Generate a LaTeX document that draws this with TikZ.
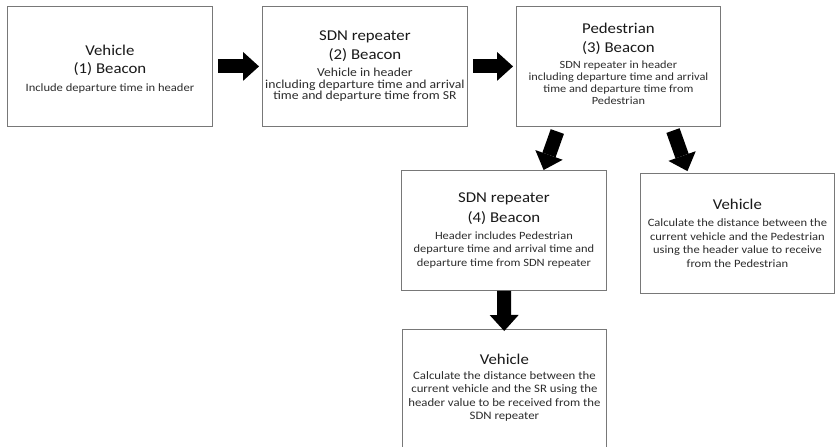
\documentclass[tikz,border=0pt]{standalone}
\usepackage{fontspec}
\setmainfont{Carlito}
\newfontfamily\bodyfam[FakeStretch=1.12]{Carlito}
\usetikzlibrary{arrows.meta,calc}
\definecolor{boxgray}{RGB}{120,120,120}
\definecolor{titlecol}{RGB}{25,25,25}
\definecolor{bodycol}{RGB}{45,45,45}
\newcommand\T[1]{{\fontsize{15}{15}\selectfont\color{titlecol}#1}}
\newcommand\bodyset[2]{\bodyfam\fontsize{#1}{#2}\selectfont\lineskiplimit=-50pt\relax}
\begin{document}
\begin{tikzpicture}[x=1pt,y=-1pt,
  box/.style={draw=boxgray, line width=0.8pt, fill=white, inner sep=0pt,
    minimum width=205pt, minimum height=120pt, anchor=north west},
  txt/.style={align=center, inner sep=0pt, text=bodycol},
  bigarrow/.style={draw=black, line width=14pt,
    -{Triangle[length=16pt, width=29pt, line width=0pt]}},
]
\useasboundingbox (0,0) rectangle (836,447);

\node[box] (b1) at (7,6) {};
\node[box] (b2) at (262,6) {};
\node[box, minimum width=204pt] (b3) at (516,6) {};
\node[box] (b4) at (401,170) {};
\node[box, minimum width=194pt] (b5) at (640,173) {};
\node[box, minimum width=204pt] (b6) at (402,329) {};

\node[txt, font=\bodyset{11.2}{18}] (t1) at ($(b1)+(0,3)$)
  {\T{Vehicle}\\ \T{(1) Beacon}\\ Include departure time in header};
\node[txt, font=\bodyset{12.2}{11.8}] (t2) at (b2)
  {\T{SDN repeater}\\[7pt] \T{(2) Beacon}\\[5pt] Vehicle in header\\ including departure time and arrival\\ time and departure time from SR};
\node[txt, font=\bodyset{11}{12}] (t3) at ($(b3)+(0,-2.5)$)
  {\T{Pedestrian}\\[7pt] \T{(3) Beacon}\\[4pt] SDN repeater in header\\ including departure time and arrival\\ time and departure time from\\ Pedestrian};
\node[txt, font=\bodyset{11.1}{13.5}] (t4) at (b4)
  {\T{SDN repeater}\\[6.5pt] \T{(4) Beacon}\\[3.5pt] Header includes Pedestrian\\ departure time and arrival time and\\ departure time from SDN repeater};
\node[txt, font=\bodyset{11.2}{13.7}] (t5) at (b5)
  {\T{Vehicle}\\[3.3pt] Calculate the distance between the\\ current vehicle and the Pedestrian\\ using the header value to receive\\ from the Pedestrian};
\node[txt, font=\bodyset{11.4}{13.5}] (t6) at ($(b6)+(0,-1.5)$)
  {\T{Vehicle}\\[1.5pt] Calculate the distance between the\\ current vehicle and the SR using the\\ header value to be received from the\\ SDN repeater};

\coordinate (a3s) at ($(b3.south west)!0.21!(b3.south east)$);
\coordinate (a3e) at ($(b4.north west)!0.693!(b4.north east)$);
\coordinate (a4s) at ($(b3.south west)!0.76!(b3.south east)$);
\coordinate (a4e) at ($(b5.north west)!0.247!(b5.north east)$);

\draw[bigarrow, shorten <=5pt, shorten >=3pt] (b1) -- (b2);
\draw[bigarrow, shorten <=5pt, shorten >=3pt] (b2) -- (b3);
\draw[bigarrow, shorten <=5pt] (a3s) -- (a3e);
\draw[bigarrow, shorten <=4pt, shorten >=2pt] (a4s) -- (a4e);
\draw[bigarrow, shorten >=-2pt] (b4) -- (b6);
\end{tikzpicture}
\end{document}
